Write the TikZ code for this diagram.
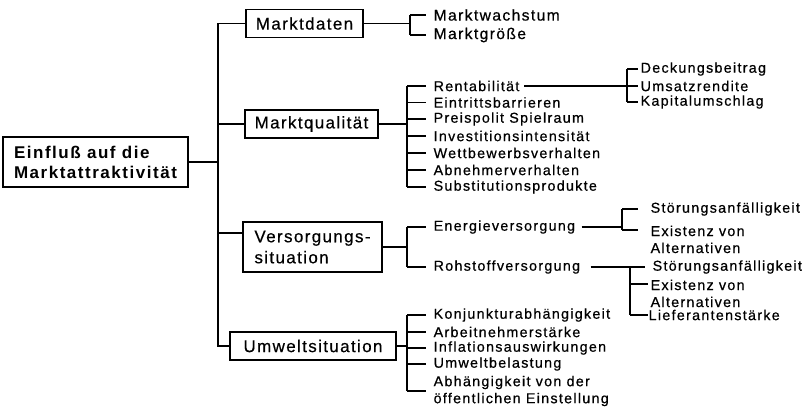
\documentclass[tikz,border=0pt]{standalone}
\usepackage{fontspec}
\setmainfont{Liberation Sans}
\newfontfamily\itemfont{Liberation Sans}[LetterSpace=9, FakeBold=0.6]
\newfontfamily\boxfont{Liberation Sans}[LetterSpace=8, FakeBold=0.5]
\newfontfamily\rootfont{Liberation Sans}[LetterSpace=9]
\usetikzlibrary{positioning,calc}

\begin{document}
\begin{tikzpicture}[
  x=1pt, y=-1pt,
  line width=1.3pt,
  mainbox/.style={draw, line width=1.4pt, align=left,
                  font=\rootfont\bfseries\fontsize{17}{20}\selectfont,
                  minimum width=185pt, minimum height=50pt, inner xsep=7pt},
  catbox/.style={draw, line width=1.4pt, align=left,
                 font=\boxfont\fontsize{17}{21}\selectfont,
                 minimum height=28pt, inner xsep=8pt},
  entry/.style={font=\itemfont\fontsize{14.3}{17}\selectfont,
                align=left, anchor=west, inner sep=0pt},
  bigentry/.style={entry, font=\itemfont\fontsize{15.6}{17}\selectfont},
  tick/.style={shorten >=#1},
  tick/.default=7pt,
]
\useasboundingbox (0,0) rectangle (807,407);

% root and categories
\node[mainbox] (root) at (95.5,162) {Einfluß auf die\\Marktattraktivität};
\node[catbox, minimum width=117pt] (daten) at (304.5,23.5) {Marktdaten};
\node[catbox, minimum width=133pt] (qual) at (311.5,124) {Marktqualität};
\node[catbox, minimum width=139pt, minimum height=50pt] (vers) at (312.5,247)
  {Versorgungs-\\situation};
\node[catbox, minimum width=166pt] (umwelt) at (313,346) {Umweltsituation};

\coordinate (trunk) at (218,0);
\coordinate (verstop) at ([yshift=14pt]vers.west);
\draw (root.east) -- (root.east -| trunk);
\draw (daten.west) -- (trunk |- daten.west) -- (trunk |- umwelt.west) -- (umwelt.west);
\draw (trunk |- qual.west) -- (qual.west);
\draw (trunk |- verstop) -- (verstop);

% Marktdaten
\node[bigentry] (wachstum) at (433,15) {Marktwachstum};
\node[bigentry] (groesse) at (433,35) {Marktgröße};
\coordinate (jd) at (410,0);
\draw (daten.east) -- (jd |- daten.east);
\draw (jd |- wachstum.west) -- (jd |- groesse.west);
\foreach \n in {wachstum,groesse}
  \draw[tick] (jd |- \n.west) -- (\n.west);

% Marktqualitaet
\foreach \n/\y/\t in {rent/86/Rentabilität, eintr/102.5/Eintrittsbarrieren,
    preis/119/Preispolit Spielraum, invest/136/Investitionsintensität,
    wettb/153/Wettbewerbsverhalten, abnehm/170/Abnehmerverhalten,
    subst/187/Substitutionsprodukte}
  \node[entry] (\n) at (433,\y) {\t};
\coordinate (jq) at (407,0);
\draw (qual.east) -- (jq |- qual.east);
\draw (jq |- rent.west) -- (jq |- subst.west);
\foreach \n in {rent,eintr,preis,invest,wettb,abnehm,subst}
  \draw[tick] (jq |- \n.west) -- (\n.west);

\node[entry] (deckung) at (640,69) {Deckungsbeitrag};
\node[entry] (umsatz) at (640,86) {Umsatzrendite};
\node[entry] (kapital) at (640,102) {Kapitalumschlag};
\coordinate (jr) at (627,0);
\draw[shorten <=4pt] (rent.east) -- (jr |- rent.east);
\draw (jr |- deckung.west) -- (jr |- kapital.west);
\foreach \n in {deckung,umsatz,kapital}
  \draw[tick=2pt] (jr |- \n.west) -- (\n.west);

% Versorgungssituation
\node[entry] (energie) at (433,227) {Energieversorgung};
\node[entry] (rohstoff) at (433,267) {Rohstoffversorgung};
\coordinate (jv) at (407,0);
\draw (vers.east) -- (jv |- vers.east);
\draw (jv |- energie.west) -- (jv |- rohstoff.west);
\foreach \n in {energie,rohstoff}
  \draw[tick] (jv |- \n.west) -- (\n.west);

\node[entry] (stoerE) at (650,209) {Störungsanfälligkeit};
\node[entry, anchor=north west] (altE) at (650,225) {Existenz von\\Alternativen};
\coordinate (altEtop) at ([yshift=-5pt]altE.north west);
\coordinate (je) at (622,0);
\draw[shorten <=6pt] (energie.east) -- (je |- energie.east);
\draw (je |- stoerE.west) -- (je |- altEtop);
\draw[tick=12pt] (je |- stoerE.west) -- (stoerE.west);
\draw[tick=12pt] (je |- altEtop) -- (altEtop);

\node[entry] (stoerR) at (652,267) {Störungsanfälligkeit};
\node[entry, anchor=north west] (altR) at (650,279) {Existenz von\\Alternativen};
\coordinate (altRtop) at ([yshift=-5pt]altR.north west);
\node[entry] (liefer) at (648,315) {Lieferantenstärke};
\coordinate (jrs) at (630,0);
\draw[shorten <=10pt, tick] (rohstoff.east) -- (stoerR.west);
\draw (jrs |- stoerR.west) -- (jrs |- liefer.west);
\draw[tick=2pt] (jrs |- altRtop) -- (altRtop);
\draw[tick=0pt] (jrs |- liefer.west) -- (liefer.west);

% Umweltsituation
\foreach \n/\y/\t in {konj/315/Konjunkturabhängigkeit, arbeit/332/Arbeitnehmerstärke,
    infl/348/Inflationsauswirkungen, belast/364/Umweltbelastung,
    abh/391/{Abhängigkeit von der\\öffentlichen Einstellung}}
  \node[entry] (\n) at (433,\y) {\t};
\coordinate (ju) at (407,0);
\draw (umwelt.east) -- (ju |- umwelt.east);
\draw (ju |- konj.west) -- (ju |- abh.west);
\foreach \n in {konj,arbeit,infl,belast,abh}
  \draw[tick] (ju |- \n.west) -- (\n.west);
\end{tikzpicture}
\end{document}
